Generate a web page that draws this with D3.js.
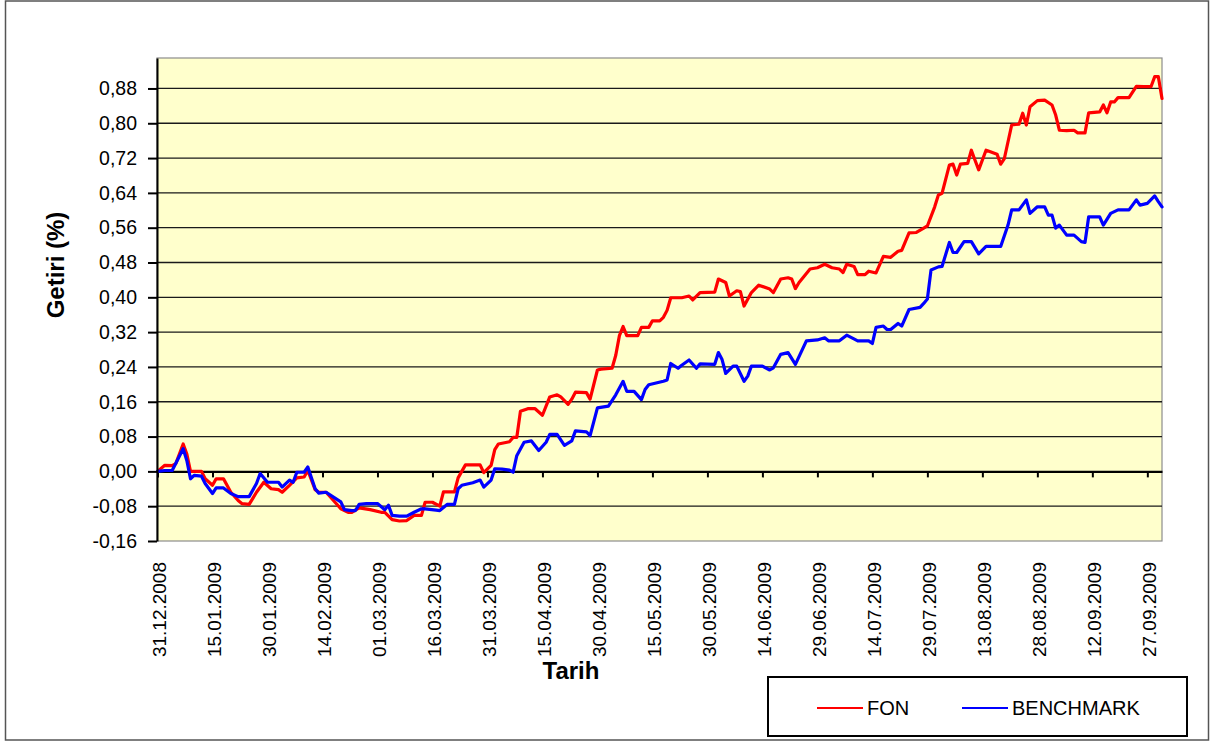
<!DOCTYPE html>
<html>
<head>
<meta charset="utf-8">
<script src="https://cdn.jsdelivr.net/npm/d3@7"></script>
<style>
    body { margin: 0; background: #fff; }
    svg { display: block; font-family: "Liberation Sans", Arial, sans-serif; }
</style>
</head>
<body>
<svg id="chart"></svg>
<script>
// Global Variables
const canvasWidth = 1214;
const canvasHeight = 742;

// FON daily return (%)
const fonSeries = [
    ["31.12.2008", 0.000], ["02.01.2009", 0.014], ["04.01.2009", 0.013], ["05.01.2009", 0.018], ["07.01.2009", 0.063],
    ["08.01.2009", 0.040], ["09.01.2009", 0.000], ["12.01.2009", 0.000], ["13.01.2009", -0.017], ["15.01.2009", -0.032],
    ["16.01.2009", -0.017], ["18.01.2009", -0.017], ["20.01.2009", -0.048], ["22.01.2009", -0.067], ["23.01.2009", -0.074],
    ["25.01.2009", -0.076], ["27.01.2009", -0.048], ["29.01.2009", -0.025], ["31.01.2009", -0.040], ["02.02.2009", -0.042],
    ["03.02.2009", -0.048], ["05.02.2009", -0.032], ["07.02.2009", -0.015], ["09.02.2009", -0.013], ["10.02.2009", 0.002],
    ["12.02.2009", -0.042], ["13.02.2009", -0.048], ["15.02.2009", -0.048], ["17.02.2009", -0.067], ["19.02.2009", -0.086],
    ["21.02.2009", -0.094], ["22.02.2009", -0.094], ["24.02.2009", -0.084], ["27.02.2009", -0.088], ["02.03.2009", -0.094],
    ["03.03.2009", -0.094], ["05.03.2009", -0.111], ["07.03.2009", -0.114], ["09.03.2009", -0.113], ["11.03.2009", -0.101],
    ["13.03.2009", -0.101], ["14.03.2009", -0.071], ["16.03.2009", -0.071], ["18.03.2009", -0.080], ["19.03.2009", -0.047],
    ["22.03.2009", -0.047], ["23.03.2009", -0.015], ["25.03.2009", 0.015], ["29.03.2009", 0.015], ["30.03.2009", -0.003],
    ["01.04.2009", 0.014], ["02.04.2009", 0.050], ["03.04.2009", 0.063], ["06.04.2009", 0.068], ["07.04.2009", 0.078],
    ["08.04.2009", 0.078], ["09.04.2009", 0.138], ["11.04.2009", 0.144], ["13.04.2009", 0.144], ["15.04.2009", 0.129],
    ["17.04.2009", 0.171], ["19.04.2009", 0.176], ["20.04.2009", 0.171], ["22.04.2009", 0.154], ["23.04.2009", 0.166],
    ["24.04.2009", 0.182], ["27.04.2009", 0.181], ["28.04.2009", 0.166], ["30.04.2009", 0.233], ["01.05.2009", 0.235],
    ["04.05.2009", 0.237], ["05.05.2009", 0.267], ["06.05.2009", 0.312], ["07.05.2009", 0.333], ["08.05.2009", 0.312],
    ["11.05.2009", 0.312], ["12.05.2009", 0.331], ["14.05.2009", 0.331], ["15.05.2009", 0.346], ["17.05.2009", 0.346],
    ["18.05.2009", 0.354], ["19.05.2009", 0.370], ["20.05.2009", 0.399], ["23.05.2009", 0.399], ["25.05.2009", 0.403],
    ["26.05.2009", 0.394], ["28.05.2009", 0.411], ["01.06.2009", 0.412], ["02.06.2009", 0.442], ["04.06.2009", 0.434],
    ["05.06.2009", 0.403], ["07.06.2009", 0.415], ["08.06.2009", 0.413], ["09.06.2009", 0.380], ["11.06.2009", 0.411],
    ["13.06.2009", 0.428], ["16.06.2009", 0.419], ["17.06.2009", 0.411], ["19.06.2009", 0.442], ["21.06.2009", 0.445],
    ["22.06.2009", 0.442], ["23.06.2009", 0.420], ["24.06.2009", 0.434], ["27.06.2009", 0.465], ["29.06.2009", 0.468],
    ["01.07.2009", 0.476], ["03.07.2009", 0.468], ["05.07.2009", 0.465], ["06.07.2009", 0.457], ["07.07.2009", 0.476],
    ["09.07.2009", 0.471], ["10.07.2009", 0.452], ["12.07.2009", 0.452], ["13.07.2009", 0.460], ["15.07.2009", 0.456],
    ["17.07.2009", 0.494], ["19.07.2009", 0.492], ["21.07.2009", 0.506], ["22.07.2009", 0.508], ["24.07.2009", 0.548],
    ["26.07.2009", 0.549], ["28.07.2009", 0.559], ["29.07.2009", 0.564], ["31.07.2009", 0.608], ["01.08.2009", 0.635],
    ["02.08.2009", 0.639], ["04.08.2009", 0.704], ["05.08.2009", 0.706], ["06.08.2009", 0.681], ["07.08.2009", 0.706],
    ["09.08.2009", 0.708], ["10.08.2009", 0.738], ["11.08.2009", 0.715], ["12.08.2009", 0.693], ["14.08.2009", 0.738],
    ["15.08.2009", 0.735], ["17.08.2009", 0.729], ["18.08.2009", 0.706], ["19.08.2009", 0.719], ["21.08.2009", 0.796],
    ["23.08.2009", 0.798], ["24.08.2009", 0.823], ["25.08.2009", 0.796], ["26.08.2009", 0.838], ["28.08.2009", 0.852],
    ["30.08.2009", 0.853], ["01.09.2009", 0.842], ["02.09.2009", 0.819], ["03.09.2009", 0.784], ["05.09.2009", 0.783],
    ["07.09.2009", 0.784], ["08.09.2009", 0.778], ["10.09.2009", 0.778], ["11.09.2009", 0.824], ["14.09.2009", 0.826],
    ["15.09.2009", 0.842], ["16.09.2009", 0.824], ["17.09.2009", 0.849], ["18.09.2009", 0.849], ["19.09.2009", 0.859],
    ["22.09.2009", 0.859], ["24.09.2009", 0.885], ["26.09.2009", 0.884], ["28.09.2009", 0.884], ["29.09.2009", 0.907],
    ["30.09.2009", 0.907], ["01.10.2009", 0.857]
]

// BENCHMARK return (%)
const benchSeries = [
    ["31.12.2008", 0.000], ["02.01.2009", 0.002], ["04.01.2009", 0.002], ["07.01.2009", 0.052], ["08.01.2009", 0.025],
    ["09.01.2009", -0.017], ["10.01.2009", -0.009], ["12.01.2009", -0.011], ["13.01.2009", -0.028], ["15.01.2009", -0.051],
    ["16.01.2009", -0.038], ["18.01.2009", -0.038], ["20.01.2009", -0.051], ["22.01.2009", -0.058], ["25.01.2009", -0.058],
    ["27.01.2009", -0.028], ["28.01.2009", -0.005], ["30.01.2009", -0.025], ["02.02.2009", -0.025], ["03.02.2009", -0.036],
    ["05.02.2009", -0.020], ["06.02.2009", -0.025], ["07.02.2009", -0.002], ["09.02.2009", -0.002], ["10.02.2009", 0.010],
    ["12.02.2009", -0.040], ["13.02.2009", -0.050], ["15.02.2009", -0.048], ["17.02.2009", -0.059], ["19.02.2009", -0.070],
    ["20.02.2009", -0.088], ["22.02.2009", -0.090], ["23.02.2009", -0.090], ["24.02.2009", -0.076], ["26.02.2009", -0.074],
    ["01.03.2009", -0.074], ["03.03.2009", -0.088], ["04.03.2009", -0.078], ["05.03.2009", -0.101], ["07.03.2009", -0.103],
    ["09.03.2009", -0.103], ["11.03.2009", -0.094], ["13.03.2009", -0.086], ["14.03.2009", -0.086], ["17.03.2009", -0.089],
    ["18.03.2009", -0.090], ["20.03.2009", -0.076], ["22.03.2009", -0.076], ["23.03.2009", -0.040], ["24.03.2009", -0.032],
    ["27.03.2009", -0.026], ["29.03.2009", -0.020], ["30.03.2009", -0.036], ["01.04.2009", -0.020], ["02.04.2009", 0.006],
    ["04.04.2009", 0.005], ["06.04.2009", 0.003], ["07.04.2009", -0.002], ["08.04.2009", 0.036], ["10.04.2009", 0.067],
    ["12.04.2009", 0.070], ["14.04.2009", 0.048], ["16.04.2009", 0.067], ["17.04.2009", 0.085], ["19.04.2009", 0.085],
    ["21.04.2009", 0.060], ["23.04.2009", 0.070], ["24.04.2009", 0.093], ["27.04.2009", 0.091], ["28.04.2009", 0.082],
    ["30.04.2009", 0.146], ["03.05.2009", 0.150], ["05.05.2009", 0.176], ["07.05.2009", 0.207], ["08.05.2009", 0.184],
    ["10.05.2009", 0.184], ["12.05.2009", 0.165], ["13.05.2009", 0.188], ["14.05.2009", 0.199], ["16.05.2009", 0.203],
    ["18.05.2009", 0.207], ["19.05.2009", 0.210], ["20.05.2009", 0.248], ["22.05.2009", 0.237], ["23.05.2009", 0.244],
    ["25.05.2009", 0.256], ["27.05.2009", 0.237], ["28.05.2009", 0.247], ["01.06.2009", 0.246], ["02.06.2009", 0.273],
    ["03.06.2009", 0.257], ["04.06.2009", 0.225], ["06.06.2009", 0.242], ["07.06.2009", 0.242], ["09.06.2009", 0.207],
    ["10.06.2009", 0.219], ["11.06.2009", 0.242], ["14.06.2009", 0.242], ["16.06.2009", 0.233], ["17.06.2009", 0.238],
    ["19.06.2009", 0.269], ["21.06.2009", 0.273], ["23.06.2009", 0.246], ["26.06.2009", 0.300], ["29.06.2009", 0.302],
    ["01.07.2009", 0.307], ["02.07.2009", 0.300], ["05.07.2009", 0.300], ["07.07.2009", 0.313], ["10.07.2009", 0.300],
    ["13.07.2009", 0.300], ["14.07.2009", 0.294], ["15.07.2009", 0.331], ["17.07.2009", 0.334], ["18.07.2009", 0.326],
    ["19.07.2009", 0.326], ["21.07.2009", 0.340], ["22.07.2009", 0.334], ["24.07.2009", 0.372], ["27.07.2009", 0.377],
    ["28.07.2009", 0.386], ["29.07.2009", 0.396], ["30.07.2009", 0.463], ["01.08.2009", 0.470], ["02.08.2009", 0.471],
    ["04.08.2009", 0.526], ["05.08.2009", 0.503], ["06.08.2009", 0.503], ["08.08.2009", 0.528], ["10.08.2009", 0.528],
    ["12.08.2009", 0.500], ["14.08.2009", 0.517], ["18.08.2009", 0.517], ["20.08.2009", 0.566], ["21.08.2009", 0.601],
    ["23.08.2009", 0.601], ["25.08.2009", 0.624], ["26.08.2009", 0.593], ["28.08.2009", 0.608], ["30.08.2009", 0.608],
    ["31.08.2009", 0.589], ["01.09.2009", 0.589], ["02.09.2009", 0.559], ["03.09.2009", 0.566], ["05.09.2009", 0.543],
    ["07.09.2009", 0.543], ["09.09.2009", 0.528], ["10.09.2009", 0.526], ["11.09.2009", 0.585], ["14.09.2009", 0.585],
    ["15.09.2009", 0.566], ["17.09.2009", 0.593], ["19.09.2009", 0.601], ["22.09.2009", 0.601], ["24.09.2009", 0.624],
    ["25.09.2009", 0.612], ["27.09.2009", 0.616], ["29.09.2009", 0.633], ["30.09.2009", 0.620], ["01.10.2009", 0.608]
]

// Tick labels
const xTickLabels = [
    "31.12.2008", "15.01.2009", "30.01.2009", "14.02.2009", "01.03.2009", "16.03.2009", "31.03.2009",
    "15.04.2009", "30.04.2009", "15.05.2009", "30.05.2009", "14.06.2009", "29.06.2009", "14.07.2009",
    "29.07.2009", "13.08.2009", "28.08.2009", "12.09.2009", "27.09.2009"
]
const yTickValues = [-0.16, -0.08, 0, 0.08, 0.16, 0.24, 0.32, 0.40, 0.48, 0.56, 0.64, 0.72, 0.80, 0.88]

const seriesNames = ["FON", "BENCHMARK"]
const seriesColors = ["#ff0000", "#0000ff"]

const parseDate = d3.timeParse('%d.%m.%Y')
const locale = d3.formatLocale({ decimal: ",", thousands: ".", grouping: [3], currency: ["", ""], minus: "-" })
const yFormat = locale.format(".2f")

// plot box
const plot = { left: 157, right: 1162, top: 58, bottom: 541 }

const svg = d3.select('#chart')
    .attr('width', canvasWidth)
    .attr('height', canvasHeight)

// outer frame
svg.append('rect')
    .attr('x', 5.5).attr('y', 1)
    .attr('width', 1203).attr('height', 739)
    .attr('fill', '#fff')
    .attr('stroke', '#555')
    .attr('stroke-width', 1.5)

// SCALES X - Y
const xScale = d3.scaleTime()
    .domain([parseDate('31.12.2008'), parseDate('01.10.2009')])
    .range([plot.left + 0.5, plot.right])

const yScale = d3.scaleLinear()
    .domain([-0.16, 0.95])
    .range([plot.bottom, plot.top])

// plot background
svg.append('rect')
    .attr('x', plot.left).attr('y', plot.top)
    .attr('width', plot.right - plot.left)
    .attr('height', plot.bottom - plot.top)
    .attr('fill', '#ffffcc')
    .attr('stroke', '#8c8c8c')
    .attr('stroke-width', 1.2)

// gridlines
svg.append('g')
    .selectAll('line')
    .data(yTickValues.filter(v => v !== 0 && v !== -0.16))
    .enter()
    .append('line')
    .attr('x1', plot.left).attr('x2', plot.right)
    .attr('y1', d => yScale(d)).attr('y2', d => yScale(d))
    .attr('stroke', '#1a1a1a')
    .attr('stroke-width', 1.3)

// x axis crossing at 0
const xAxis = d3.axisBottom(xScale)
    .tickValues(xTickLabels.map(parseDate))
    .tickSize(6)
    .tickSizeOuter(0)
    .tickFormat('')

const xAxisG = svg.append('g')
    .attr('transform', `translate(0, ${yScale(0)})`)
    .call(xAxis)
xAxisG.select('.domain').attr('stroke', '#000').attr('stroke-width', 2.2)
xAxisG.selectAll('.tick line').attr('stroke', '#000').attr('stroke-width', 2)

// x labels at the bottom, rotated
svg.append('g')
    .selectAll('text')
    .data(xTickLabels)
    .enter()
    .append('text')
    .attr('transform', d => `translate(${xScale(parseDate(d)) + 2}, 562) rotate(-90)`)
    .attr('text-anchor', 'end')
    .attr('dy', '0.35em')
    .attr('font-size', 19)
    .attr('fill', '#000')
    .text(d => d)

// lines
const line = d3.line()
    .x(d => xScale(parseDate(d[0])))
    .y(d => yScale(d[1]))

const allSeries = [fonSeries, benchSeries]

svg.append('g')
    .selectAll('path')
    .data(allSeries)
    .enter()
    .append('path')
    .attr('d', d => line(d))
    .attr('fill', 'none')
    .attr('stroke', (d, i) => seriesColors[i])
    .attr('stroke-width', 3.2)
    .attr('stroke-linejoin', 'round')
    .attr('stroke-linecap', 'round')

// y axis
const yAxis = d3.axisLeft(yScale)
    .tickValues(yTickValues)
    .tickSize(9)
    .tickSizeOuter(0)
    .tickPadding(11)
    .tickFormat(yFormat)

const yAxisG = svg.append('g')
    .attr('transform', `translate(${plot.left}, 0)`)
    .call(yAxis)
yAxisG.select('.domain').attr('stroke', '#000').attr('stroke-width', 2)
yAxisG.selectAll('.tick line').attr('stroke', '#000').attr('stroke-width', 2)
yAxisG.selectAll('.tick text')
    .attr('font-size', 19.5)
    .attr('font-family', '"Liberation Sans", Arial, sans-serif')
    .attr('fill', '#000')

// axis titles
svg.append('text')
    .attr('transform', 'translate(64, 265) rotate(-90)')
    .attr('text-anchor', 'middle')
    .attr('font-size', 24)
    .attr('font-weight', 'bold')
    .text('Getiri (%)')

svg.append('text')
    .attr('x', 571).attr('y', 679)
    .attr('text-anchor', 'middle')
    .attr('font-size', 24)
    .attr('font-weight', 'bold')
    .text('Tarih')

// LEGEND STUFF
const legend = svg.append('g')
legend.append('rect')
    .attr('x', 768).attr('y', 677)
    .attr('width', 419).attr('height', 59)
    .attr('fill', '#fff')
    .attr('stroke', '#000')
    .attr('stroke-width', 2)

const legendX = [817, 962]
seriesNames.forEach((name, i) => {
    legend.append('line')
        .attr('x1', legendX[i]).attr('x2', legendX[i] + 46)
        .attr('y1', 708).attr('y2', 708)
        .attr('stroke', seriesColors[i])
        .attr('stroke-width', 2)
    legend.append('text')
        .attr('x', legendX[i] + 50).attr('y', 715)
        .attr('font-size', 20)
        .text(name)
})
</script>
</body>
</html>
